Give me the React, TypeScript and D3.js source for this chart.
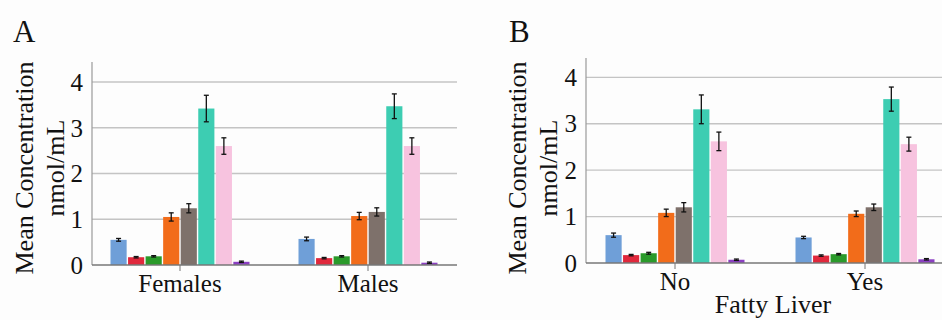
import React from "react";
import * as d3 from "d3";

const series = ["S1", "S2", "S3", "S4", "S5", "S6", "S7", "S8"];
const seriesColors = ["#6f9fd8", "#e0283c", "#2a9a2a", "#f26c1a", "#7e716b", "#3dcdb2", "#f7c3df", "#8b3fc2"];
const yTicks = [0, 1, 2, 3, 4];

const catsA = ["Females", "Males"];
const meansA = [
  [0.55, 0.17, 0.19, 1.05, 1.24, 3.42, 2.6, 0.07],
  [0.57, 0.15, 0.19, 1.07, 1.16, 3.47, 2.6, 0.05],
];
const errsA = [
  [0.03, 0.015, 0.015, 0.09, 0.1, 0.29, 0.18, 0.015],
  [0.04, 0.015, 0.015, 0.08, 0.09, 0.27, 0.18, 0.015],
];

const catsB = ["No", "Yes"];
const meansB = [
  [0.6, 0.17, 0.21, 1.08, 1.2, 3.31, 2.62, 0.07],
  [0.55, 0.16, 0.19, 1.06, 1.2, 3.53, 2.56, 0.08],
];
const errsB = [
  [0.045, 0.015, 0.02, 0.08, 0.1, 0.31, 0.2, 0.015],
  [0.025, 0.015, 0.015, 0.06, 0.07, 0.26, 0.15, 0.015],
];

const FONT = "'Liberation Serif', 'Times New Roman', serif";

type PanelProps = {
  letter: string;
  letterX: number;
  cats: string[];
  means: number[][];
  errs: number[][];
  axisX: number;
  plotRight: number;
  gridRight: number;
  y0: number;
  y4: number;
  topY: number;
  bandRange: [number, number];
  title1X: number;
  title2X: number;
  xTitle?: string;
  xTitleX?: number;
};

function Panel(p: PanelProps) {
  const unit = (p.y0 - p.y4) / 4;
  const yMax = (p.y0 - p.topY) / unit;
  const y = d3.scaleLinear().domain([0, yMax]).range([p.y0, p.topY]);
  const x = d3.scaleBand<string>().domain(p.cats).range(p.bandRange).padding(0);
  const groupW = 139;
  const titleCY = 168;
  return (
    <g>
      <text x={p.letterX} y={42} fontFamily={FONT} fontSize={31} fill="#111">{p.letter}</text>
      {yTicks.map((t) => (
        <g key={t}>
          {t > 0 && (
            <line x1={p.axisX} x2={p.gridRight} y1={y(t)} y2={y(t)} stroke="#c4c4c4" strokeWidth={1.3} />
          )}
          <text x={p.axisX - 9} y={y(t)} dy="0.35em" textAnchor="end" fontFamily={FONT} fontSize={25} fill="#111">
            {t}
          </text>
        </g>
      ))}
      <line x1={p.axisX} x2={p.axisX} y1={p.topY} y2={p.y0} stroke="#9a9a9a" strokeWidth={1.2} />
      {p.cats.map((c, ci) => {
        const cx = (x(c) as number) + x.bandwidth() / 2;
        const inner = d3.scaleBand<string>().domain(series).range([cx - groupW / 2, cx + groupW / 2]).paddingInner(0.08);
        return (
          <g key={c}>
            {series.map((s, si) => {
              const v = p.means[ci][si];
              const e = p.errs[ci][si];
              const bx = inner(s) as number;
              const bw = inner.bandwidth();
              const mx = bx + bw / 2;
              return (
                <g key={s}>
                  <rect x={bx} y={y(v)} width={bw} height={y(0) - y(v)} fill={seriesColors[si]} />
                  <line x1={mx} x2={mx} y1={y(v + e)} y2={y(v - e)} stroke="#111" strokeWidth={1.3} />
                  <line x1={mx - 2.5} x2={mx + 2.5} y1={y(v + e)} y2={y(v + e)} stroke="#111" strokeWidth={1.3} />
                  <line x1={mx - 2.5} x2={mx + 2.5} y1={y(v - e)} y2={y(v - e)} stroke="#111" strokeWidth={1.3} />
                </g>
              );
            })}
            <line x1={cx} x2={cx} y1={p.y0} y2={p.y0 + 6} stroke="#777" strokeWidth={1} />
            <text x={cx} y={p.y0 + 27} textAnchor="middle" fontFamily={FONT} fontSize={25} fill="#111">{c}</text>
          </g>
        );
      })}
      <line x1={p.axisX} x2={p.plotRight} y1={p.y0} y2={p.y0} stroke="#777" strokeWidth={1.4} />
      <text
        transform={`translate(${p.title1X},${titleCY}) rotate(-90)`}
        textAnchor="middle"
        dy="0.35em"
        fontFamily={FONT}
        fontSize={26}
        fill="#111"
      >
        Mean Concentration
      </text>
      <text
        transform={`translate(${p.title2X},${titleCY}) rotate(-90)`}
        textAnchor="middle"
        dy="0.35em"
        fontFamily={FONT}
        fontSize={26}
        fill="#111"
      >
        nmol/mL
      </text>
      {p.xTitle && (
        <text x={p.xTitleX} y={313} textAnchor="middle" fontFamily={FONT} fontSize={26} fill="#111">{p.xTitle}</text>
      )}
    </g>
  );
}

export default function App() {
  return (
    <div style={{ position: "absolute", left: 0, top: 0 }}>
      <svg width={942} height={320} style={{ display: "block", background: "#fdfdfd" }}>
        <Panel
          letter="A"
          letterX={13}
          cats={catsA}
          means={meansA}
          errs={errsA}
          axisX={92}
          plotRight={457}
          gridRight={457}
          y0={265}
          y4={82}
          topY={62}
          bandRange={[86, 462]}
          title1X={24}
          title2X={55}
        />
        <Panel
          letter="B"
          letterX={509}
          cats={catsB}
          means={meansB}
          errs={errsB}
          axisX={586}
          plotRight={942}
          gridRight={942}
          y0={263}
          y4={77.3}
          topY={58}
          bandRange={[580, 960]}
          title1X={517}
          title2X={548}
          xTitle="Fatty Liver"
          xTitleX={773}
        />
      </svg>
    </div>
  );
}
